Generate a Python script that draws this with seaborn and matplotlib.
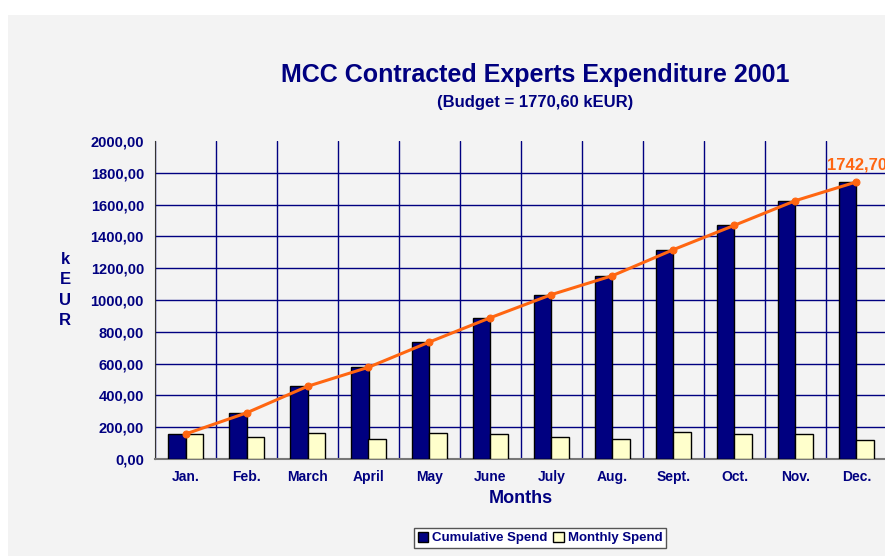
import numpy as np
import pandas as pd
import matplotlib
matplotlib.use("Agg")
import matplotlib.pyplot as plt
from matplotlib.patches import Patch, Rectangle
import seaborn as sns

months = ["Jan.", "Feb.", "March", "April", "May", "June",
          "July", "Aug.", "Sept.", "Oct.", "Nov.", "Dec."]
cumulative_spend = [157, 290, 457, 577, 736, 889, 1034, 1153, 1317, 1470, 1625, 1742.70]
monthly_spend = [157, 140, 162, 124, 162, 157, 140, 124, 168, 157, 157, 117]

NAVY = "#000080"
CREAM = "#ffffcc"
ORANGE = "#ff6611"
BG = "#f3f3f3"


def fmt(v):
    return f"{v:.2f}".replace(".", ",")


def main():
    sns.set_style("white")
    plt.rcParams["font.family"] = ["Liberation Sans", "DejaVu Sans"]

    df = pd.DataFrame({
        "Month": months * 2,
        "Spend": cumulative_spend + monthly_spend,
        "Series": ["Cumulative Spend"] * len(months) + ["Monthly Spend"] * len(months),
    })

    fig = plt.figure(figsize=(8.85, 5.56), dpi=100, facecolor="white")
    fig.patches.append(Rectangle((8 / 885, 0), 1, 1 - 15 / 556, transform=fig.transFigure,
                                 facecolor=BG, edgecolor="none", zorder=-10))
    ax = fig.add_axes([155 / 885, 1 - 459 / 556, 732 / 885, 318 / 556])
    ax.set_facecolor(BG)

    sns.barplot(data=df, x="Month", y="Spend", hue="Series", order=months,
                palette=[NAVY, CREAM], saturation=1, width=0.59, edgecolor="black",
                linewidth=1, legend=False, ax=ax, zorder=3)

    x = np.arange(len(months))
    sns.lineplot(x=x, y=cumulative_spend, ax=ax, color=ORANGE, linewidth=2.2,
                 marker="o", markersize=5, markeredgecolor=ORANGE, zorder=5)
    ax.text(x[-1] - 0.48, cumulative_spend[-1] + 60, fmt(cumulative_spend[-1]),
            color=ORANGE, fontsize=12, fontweight="bold", ha="left", va="bottom",
            clip_on=False)

    ax.set_xlim(-0.5, len(months) - 0.5)
    ax.set_ylim(0, 2000)
    yt = np.arange(0, 2001, 200)
    ax.set_yticks(yt)
    ax.set_yticklabels([fmt(v) for v in yt], color=NAVY, fontsize=10.5, fontweight="bold")
    ax.set_xticks(np.arange(-0.5, len(months), 1.0))
    ax.set_xticklabels([])
    ax.set_xticks(x, minor=True)
    ax.set_xticklabels(months, minor=True, color=NAVY, fontsize=10, fontweight="bold")
    ax.tick_params(axis="x", which="minor", length=0, pad=8)
    ax.tick_params(axis="x", which="major", length=5, color="#333333", direction="out")
    ax.tick_params(axis="y", length=5, color="#333333", direction="out", pad=3)

    ax.grid(True, axis="both", which="major", color=NAVY, linewidth=1, zorder=0)
    ax.get_ygridlines()[-1].set_visible(False)
    ax.set_axisbelow(True)
    for s in ["top", "right"]:
        ax.spines[s].set_visible(False)
    ax.spines["left"].set_color("#333333")
    ax.spines["bottom"].set_color("#777777")
    ax.spines["bottom"].set_linewidth(1.5)

    ax.set_xlabel("Months", color=NAVY, fontsize=13, fontweight="bold", labelpad=4)
    ax.set_ylabel("")
    fig.text(65 / 885, 1 - 290 / 556, "k\nE\nU\nR", color=NAVY, fontsize=12,
             fontweight="bold", ha="center", va="center", linespacing=1.45)

    fig.text(535 / 885, 1 - 75 / 556, "MCC Contracted Experts Expenditure 2001",
             color=NAVY, fontsize=18, fontweight="bold", ha="center", va="center")
    fig.text(535 / 885, 1 - 103 / 556, "(Budget = 1770,60 kEUR)",
             color=NAVY, fontsize=12, fontweight="bold", ha="center", va="center")

    handles = [Patch(facecolor=NAVY, edgecolor="black"),
               Patch(facecolor=CREAM, edgecolor="black")]
    leg = fig.legend(handles, ["Cumulative Spend", "Monthly Spend"], loc="center",
                     bbox_to_anchor=(540 / 885, 1 - 538 / 556), ncol=2,
                     handlelength=0.8, handleheight=0.8, handletextpad=0.3,
                     columnspacing=0.4, borderpad=0.3, fancybox=False,
                     edgecolor="#555555", framealpha=1, facecolor="white",
                     prop={"weight": "bold", "size": 9.5})
    for t in leg.get_texts():
        t.set_color(NAVY)

    fig.savefig("out.png", dpi=100, facecolor=fig.get_facecolor())


if __name__ == "__main__":
    main()
